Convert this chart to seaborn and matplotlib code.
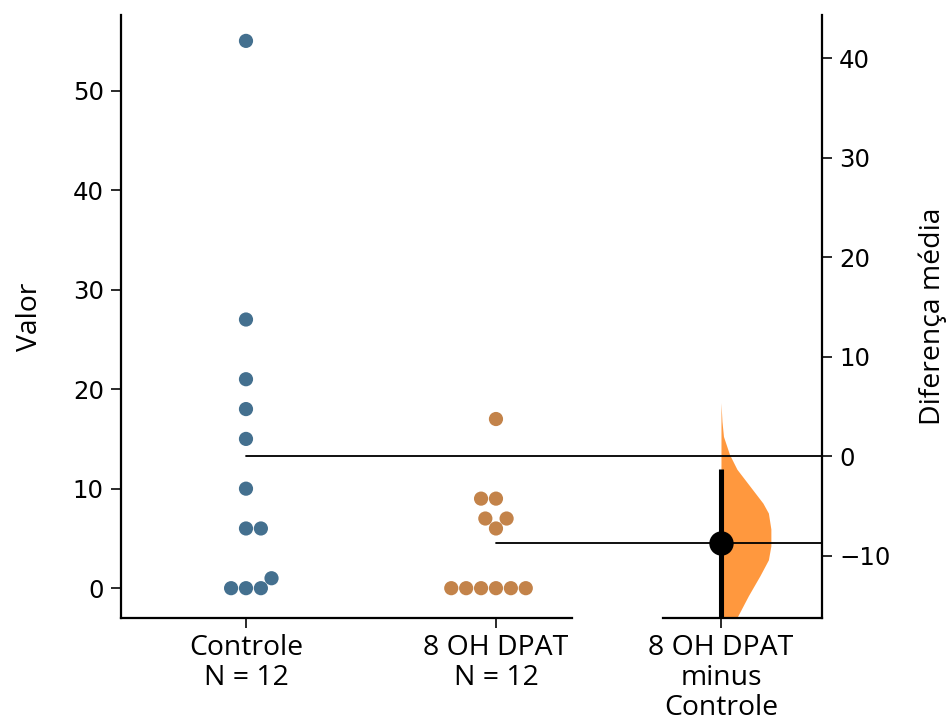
"""
Gardner-Altman estimation plot: Controle vs 8 OH DPAT
raw swarm on the left, mean difference (half violin + CI) on the right
"""

import numpy as np
import pandas as pd
import matplotlib
matplotlib.use("Agg")
import matplotlib.pyplot as plt
import seaborn as sns

# --- data ---
groups = ["Controle", "8 OH DPAT"]
controle = [55, 27, 21, 18, 15, 10, 6, 6, 1, 0, 0, 0]
dpat = [17, 9, 9, 7, 7, 6, 0, 0, 0, 0, 0, 0]

# bootstrap distribution of the mean difference (shape)
boot_diff = [5.4, 3.5, 2.0, 0.2, -1.3, -3.0, -4.7, -5.7, -7.3, -9.0, -10.4,
             -12.0, -14.0, -16.2, -18.0, -20.0, -21.0]
boot_density = [0.0, 0.02, 0.05, 0.17, 0.32, 0.58, 0.84, 0.95, 1.0, 1.0, 0.95,
                0.78, 0.55, 0.32, 0.15, 0.04, 0.0]
ci_low, ci_high = -18.5, -1.3

xtick_labels = ["Controle\nN = 12", "8 OH DPAT\nN = 12"]
contrast_label = "8 OH DPAT\nminus\nControle"

df = pd.DataFrame({
    "grupo": ["Controle"] * len(controle) + ["8 OH DPAT"] * len(dpat),
    "valor": controle + dpat,
})

mean_ctrl = np.mean(controle)
mean_test = np.mean(dpat)
diff = mean_test - mean_ctrl

sns.set_style("ticks")
plt.rcParams["font.family"] = ["DejaVu Sans"]
plt.rcParams.update({
    "axes.linewidth": 1.1,
    "axes.edgecolor": "black",
    "axes.labelcolor": "black",
    "text.color": "black",
    "xtick.color": "black",
    "ytick.color": "black",
})
LABEL_FONT = ["Open Sans", "DejaVu Sans"]

DPI = 146
fig = plt.figure(figsize=(949 / DPI, 722 / DPI), dpi=DPI)
ax = fig.add_axes([0.1275, 0.1440, 0.4752, 0.8352])
ax_c = fig.add_axes([0.6986, 0.1440, 0.1675, 0.8352])

swarm_pal = sns.color_palette("tab10", 2, desat=0.5)
violin_col = sns.color_palette("tab10")[1]

sns.swarmplot(data=df, x="grupo", y="valor", hue="grupo", order=groups,
              hue_order=groups, palette=swarm_pal, size=7, legend=False, ax=ax)

ylim = (-3.0, 57.6)
ax.set_ylim(*ylim)
ax.set_xlim(-0.5, 1.304)
ax.set_xticks([0, 1])
ax.set_xticklabels(xtick_labels, fontsize=14, family=LABEL_FONT, linespacing=1.08)
ax.set_xlabel("")
ax.set_ylabel("Valor", fontsize=14, family=LABEL_FONT, labelpad=14)
ax.tick_params(axis="y", labelsize=12, length=5)
ax.tick_params(axis="x", length=5, pad=3)
sns.despine(ax=ax)

# contrast axes shares the scale, 0 aligned with the control mean
ax_c.set_ylim(ylim[0] - mean_ctrl, ylim[1] - mean_ctrl)
ax_c.set_xlim(-0.5, 0.87)
ax_c.fill_betweenx(boot_diff, 0, np.array(boot_density) * 0.43,
                   color=violin_col, alpha=0.8, linewidth=0)
ax_c.vlines(0, ci_low, ci_high, color="black", linewidth=2.5)
ax_c.plot([0], [diff], "o", color="black", markersize=11)

ax_c.yaxis.tick_right()
ax_c.yaxis.set_label_position("right")
ax_c.set_yticks([-10, 0, 10, 20, 30, 40])
ax_c.set_xticks([0])
ax_c.set_xticklabels([contrast_label], fontsize=14, family=LABEL_FONT,
                     linespacing=1.08)
ax_c.set_ylabel("Diferença média", fontsize=14, family=LABEL_FONT, labelpad=14)
ax_c.tick_params(axis="y", labelsize=12, length=5)
ax_c.tick_params(axis="x", length=5, pad=3)
for s in ["left", "top"]:
    ax_c.spines[s].set_visible(False)

# mean reference lines running from each group into the contrast axes
to_c = ax_c.transData.inverted()
x_right = ax_c.get_xlim()[1]
for gx, yc in [(0, 0.0), (1, diff)]:
    disp = ax.transData.transform((gx, 0))
    x_start = to_c.transform(disp)[0]
    ax_c.plot([x_start, x_right], [yc, yc], color="black", linewidth=0.9,
              clip_on=False, zorder=1)

plt.savefig("out.png", dpi=DPI)
